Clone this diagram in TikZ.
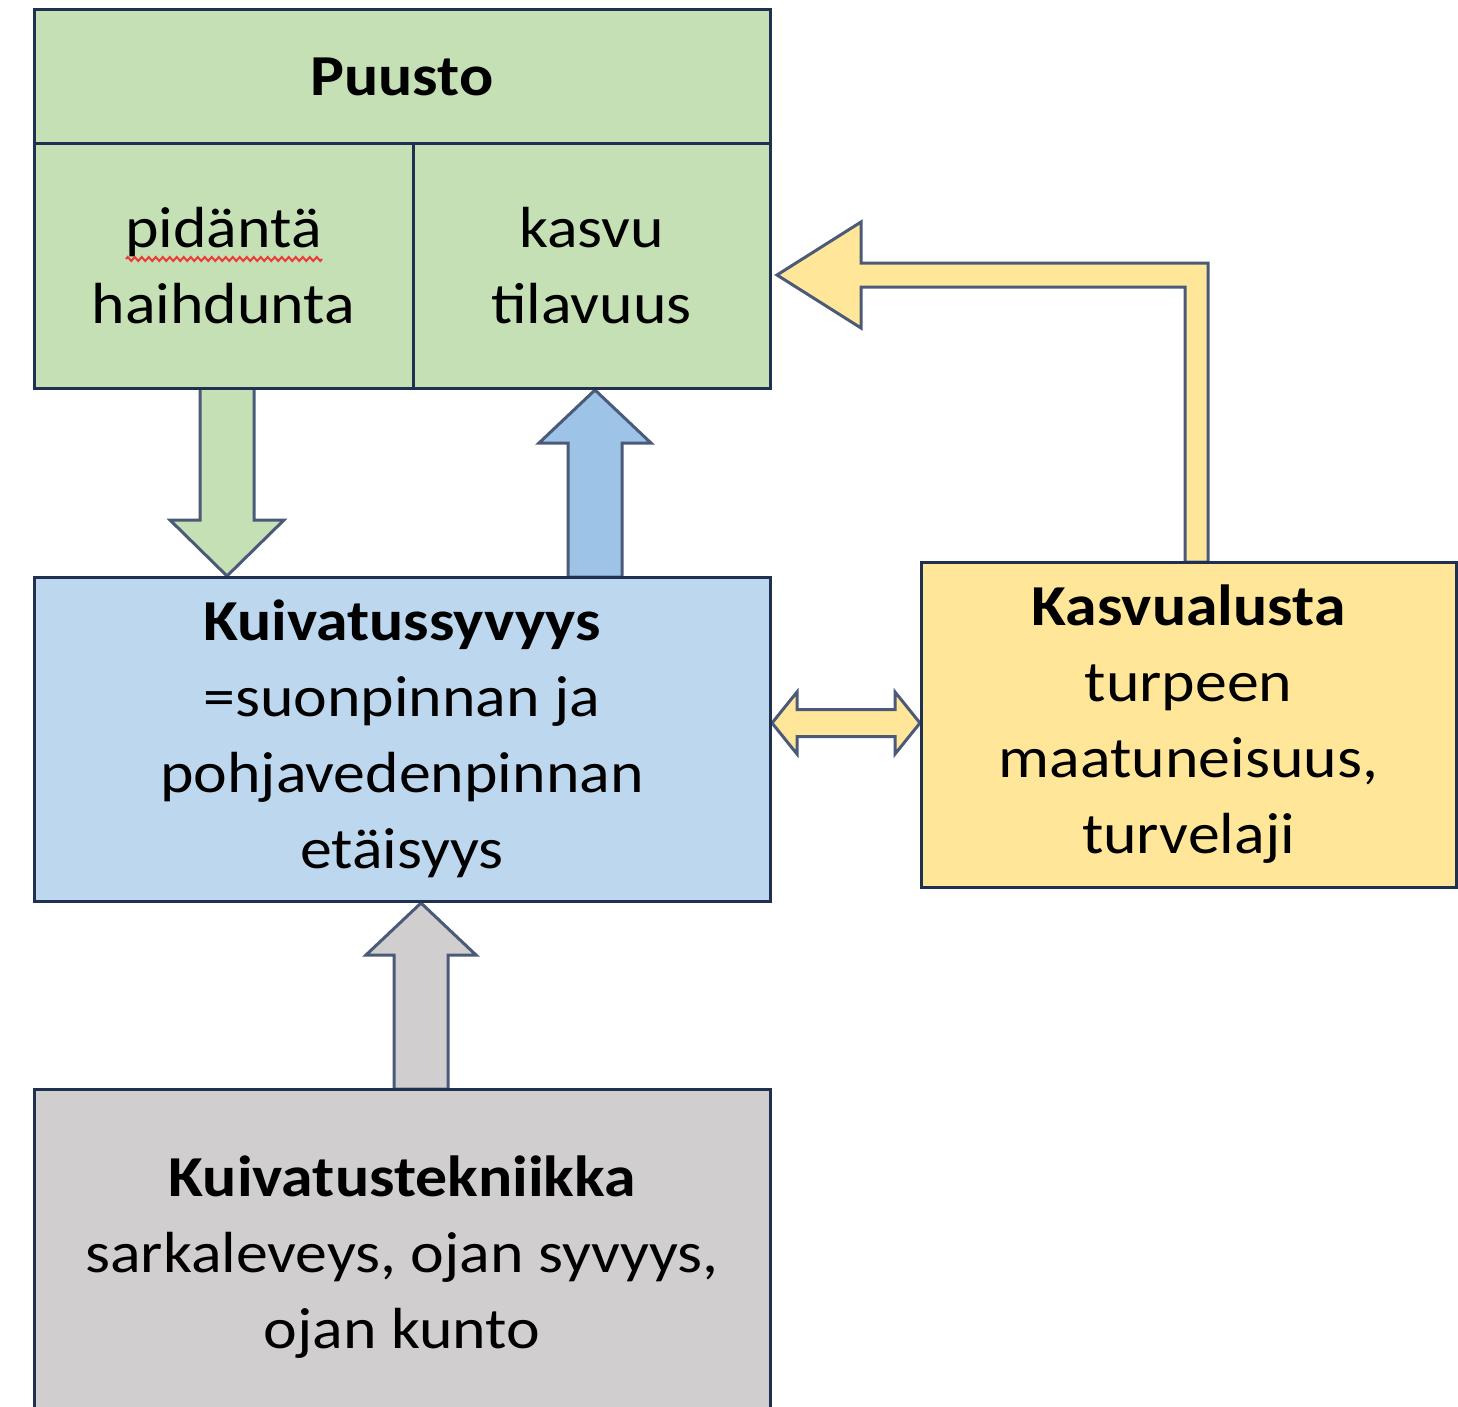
\documentclass[tikz,border=0pt]{standalone}
\usepackage{fontspec}
\setmainfont{Carlito}[FakeStretch=1.1]
\usetikzlibrary{calc,decorations.pathmorphing}
\definecolor{boxline}{HTML}{1F3050}
\definecolor{arrline}{HTML}{4A5A78}
\definecolor{grfill}{HTML}{C5E0B4}
\definecolor{blfill}{HTML}{BDD7EE}
\definecolor{blarrow}{HTML}{9DC3E6}
\definecolor{yefill}{HTML}{FFE699}
\definecolor{gyfill}{HTML}{D0CECE}
\definecolor{squig}{HTML}{F03A3A}
\newcommand\vblock[6]{%
  \path[#1] let \p1=(#2), \p2=(#3), \n1={sign(\y2-\y1)} in
    (\x1-#4,\y1) -- (\x1-#4,\y2-\n1*#6) -- (\x1-#5,\y2-\n1*#6) -- (\x2,\y2)
    -- (\x1+#5,\y2-\n1*#6) -- (\x1+#4,\y2-\n1*#6) -- (\x1+#4,\y1) -- cycle;}
\begin{document}
\begin{tikzpicture}[x=1pt,y=-1pt,
  boxstyle/.style={draw=boxline,line width=3pt,rectangle,outer sep=0pt,inner sep=0pt,align=center,
     font=\fontsize{58pt}{76pt}\selectfont},
  arrstyle/.style={draw=arrline,line width=3pt,line join=miter}]
\useasboundingbox (0,0) rectangle (1458,1407);
\clip (0,0) rectangle (1458,1407);
% arrows first
\coordinate (gbase) at (227,388);
\coordinate (gtip) at (227,576);
\coordinate (bbase) at (595,577);
\coordinate (btip) at (595,390);
\coordinate (ybase) at (421,1089);
\coordinate (ytip) at (421,903);
\vblock{arrstyle,fill=grfill}{gbase}{gtip}{27pt}{57pt}{56pt}
\vblock{arrstyle,fill=blarrow}{bbase}{btip}{27pt}{56pt}{53pt}
\vblock{arrstyle,fill=gyfill}{ybase}{ytip}{27pt}{55pt}{52pt}
% bent yellow arrow
\coordinate (kstart) at (1196.5,562);
\coordinate (ktip) at (777,275);
\path[arrstyle,fill=yefill] (1185,562) -- (1185,287) -- (861,287) -- (861,328) -- (ktip)
  -- (861,222) -- (861,263) -- (1208,263) -- (1208,562) -- cycle;
% double arrow
\coordinate (dl) at (772,723);
\coordinate (dr) at (920,723);
\path[arrstyle,fill=yefill] (dl) -- (797,692) -- (797,709.5) -- (895,709.5) -- (895,692) -- (dr)
  -- (895,754) -- (895,736.5) -- (797,736.5) -- (797,754) -- cycle;
% boxes
\node[boxstyle,fill=grfill,minimum width=736pt,minimum height=134pt] (puusto) at (402,77) {\bfseries Puusto};
\node[boxstyle,fill=grfill,minimum width=379pt,minimum height=244pt] (pidanta) at (223.5,266) {pidäntä\\haihdunta};
\node[boxstyle,fill=grfill,minimum width=357pt,minimum height=244pt] (kasvu) at (591.5,266) {kasvu\\tilavuus};
\node[boxstyle,fill=blfill,minimum width=736pt,minimum height=324pt] (kuiv) at (402,739)
  {\bfseries Kuivatussyvyys\\=suonpinnan ja\\pohjavedenpinnan\\etäisyys};
\node[boxstyle,fill=yefill,minimum width=535pt,minimum height=325pt] (kasvualusta) at (1188.5,724.5)
  {\bfseries Kasvualusta\\turpeen\\maatuneisuus,\\turvelaji};
\node[boxstyle,fill=gyfill,minimum width=736pt,minimum height=336pt] (tekn) at (402,1257)
  {\bfseries Kuivatustekniikka\\sarkaleveys, ojan syvyys,\\ojan kunto};
% spell-check squiggle
\coordinate (sq1) at (126,259);
\coordinate (sq2) at (322,259);
\draw[squig,line width=2pt,decorate,decoration={zigzag,segment length=7pt,amplitude=2pt}] (sq1) -- (sq2);
\end{tikzpicture}
\end{document}
